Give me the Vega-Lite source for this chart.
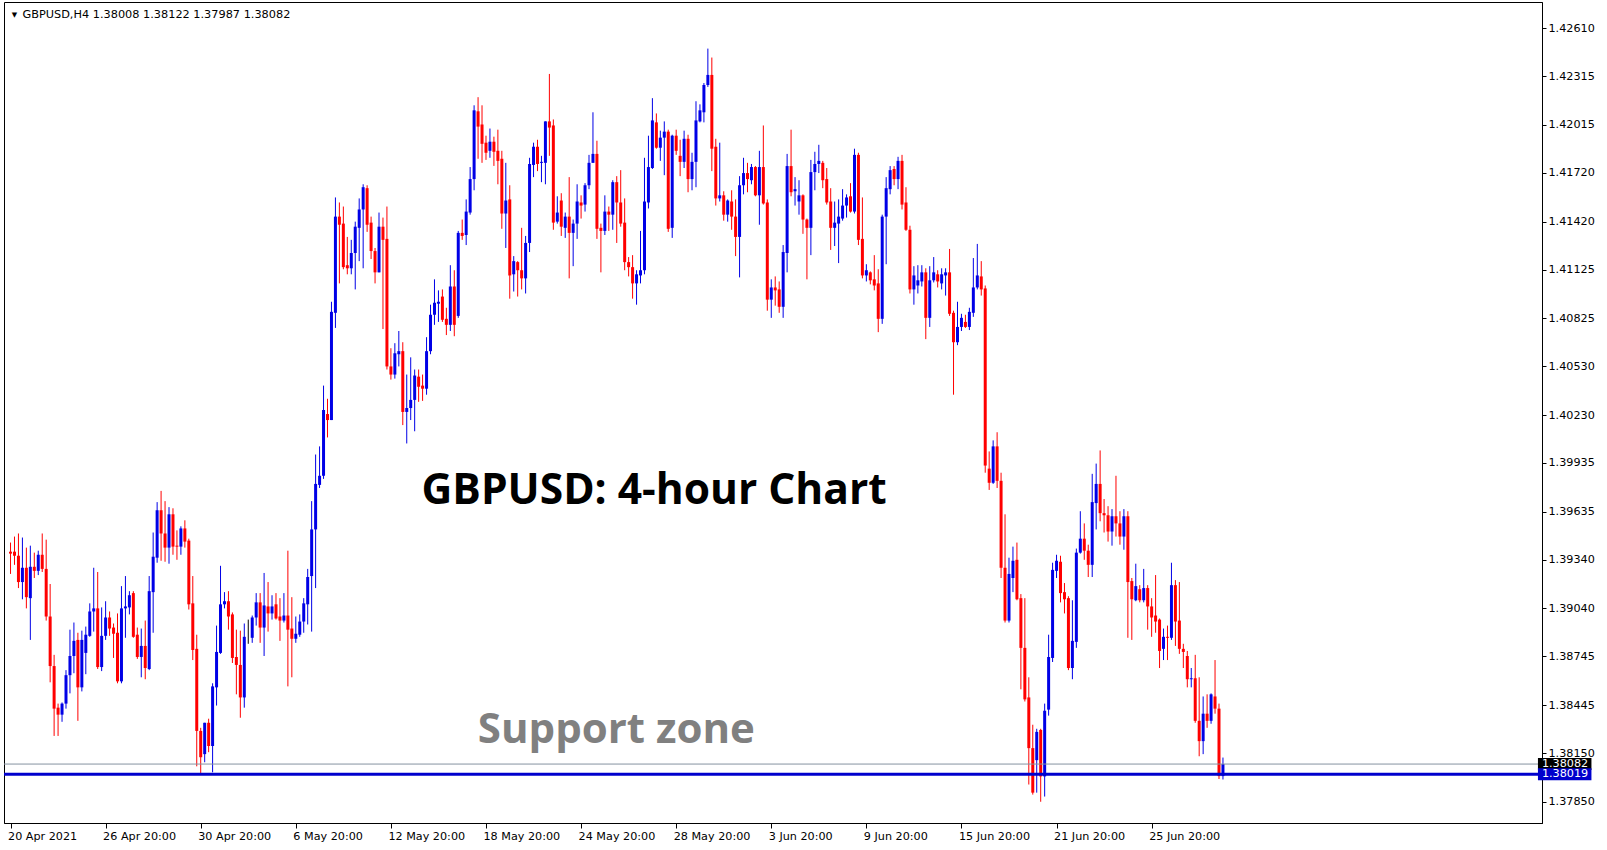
{
"$schema":"https://vega.github.io/schema/vega-lite/v6.json",
"width":1607,"height":850,"autosize":{"type":"fit","contains":"padding"},
"padding":{"left":2,"top":2,"right":12,"bottom":8},
"background":"white",
"config":{"view":{"stroke":"black","strokeWidth":1},"axis":{"labelFont":"DejaVu Sans","labelFontSize":11.2,"labelColor":"black","domainColor":"black","tickColor":"black","grid":false}},
"resolve":{"axis":{"x":"independent","y":"independent"}},
"datasets":{"bars":[
{"i":0,"o":1.39389,"h":1.39445,"l":1.39252,"c":1.39377},
{"i":1,"o":1.39389,"h":1.39482,"l":1.39308,"c":1.39364},
{"i":2,"o":1.39364,"h":1.39501,"l":1.39165,"c":1.39202},
{"i":3,"o":1.39202,"h":1.39476,"l":1.39096,"c":1.39290},
{"i":4,"o":1.39290,"h":1.39414,"l":1.39040,"c":1.39109},
{"i":5,"o":1.39103,"h":1.39426,"l":1.38846,"c":1.39296},
{"i":6,"o":1.39296,"h":1.39383,"l":1.39227,"c":1.39271},
{"i":7,"o":1.39271,"h":1.39395,"l":1.39245,"c":1.39370},
{"i":8,"o":1.39370,"h":1.39501,"l":1.39264,"c":1.39283},
{"i":9,"o":1.39283,"h":1.39463,"l":1.38965,"c":1.38990},
{"i":10,"o":1.38990,"h":1.39190,"l":1.38585,"c":1.38685},
{"i":11,"o":1.38685,"h":1.38754,"l":1.38255,"c":1.38423},
{"i":12,"o":1.38429,"h":1.38454,"l":1.38255,"c":1.38386},
{"i":13,"o":1.38386,"h":1.38461,"l":1.38342,"c":1.38454},
{"i":14,"o":1.38454,"h":1.38660,"l":1.38423,"c":1.38629},
{"i":15,"o":1.38629,"h":1.38909,"l":1.38517,"c":1.38747},
{"i":16,"o":1.38747,"h":1.38953,"l":1.38641,"c":1.38840},
{"i":17,"o":1.38846,"h":1.38890,"l":1.38348,"c":1.38554},
{"i":18,"o":1.38554,"h":1.38903,"l":1.38529,"c":1.38846},
{"i":19,"o":1.38766,"h":1.38928,"l":1.38635,"c":1.38878},
{"i":20,"o":1.38871,"h":1.39071,"l":1.38865,"c":1.39021},
{"i":21,"o":1.39021,"h":1.39290,"l":1.38897,"c":1.39040},
{"i":22,"o":1.39040,"h":1.39264,"l":1.38667,"c":1.38679},
{"i":23,"o":1.38679,"h":1.39046,"l":1.38654,"c":1.38871},
{"i":24,"o":1.38871,"h":1.39084,"l":1.38846,"c":1.38984},
{"i":25,"o":1.38984,"h":1.39021,"l":1.38871,"c":1.38916},
{"i":26,"o":1.38922,"h":1.38947,"l":1.38735,"c":1.38884},
{"i":27,"o":1.38890,"h":1.39009,"l":1.38579,"c":1.38591},
{"i":28,"o":1.38591,"h":1.39177,"l":1.38579,"c":1.39040},
{"i":29,"o":1.39040,"h":1.39239,"l":1.38859,"c":1.39052},
{"i":30,"o":1.39046,"h":1.39146,"l":1.39003,"c":1.39121},
{"i":31,"o":1.39134,"h":1.39146,"l":1.38859,"c":1.38865},
{"i":32,"o":1.38878,"h":1.38922,"l":1.38729,"c":1.38741},
{"i":33,"o":1.38741,"h":1.38916,"l":1.38616,"c":1.38809},
{"i":34,"o":1.38809,"h":1.38965,"l":1.38604,"c":1.38673},
{"i":35,"o":1.38667,"h":1.39239,"l":1.38660,"c":1.39146},
{"i":36,"o":1.39140,"h":1.39507,"l":1.38890,"c":1.39358},
{"i":37,"o":1.39352,"h":1.39694,"l":1.39321,"c":1.39644},
{"i":38,"o":1.39644,"h":1.39763,"l":1.39333,"c":1.39501},
{"i":39,"o":1.39501,"h":1.39700,"l":1.39327,"c":1.39414},
{"i":40,"o":1.39414,"h":1.39663,"l":1.39315,"c":1.39619},
{"i":41,"o":1.39619,"h":1.39656,"l":1.39370,"c":1.39420},
{"i":42,"o":1.39426,"h":1.39520,"l":1.39339,"c":1.39420},
{"i":43,"o":1.39420,"h":1.39545,"l":1.39370,"c":1.39532},
{"i":44,"o":1.39532,"h":1.39582,"l":1.39414,"c":1.39451},
{"i":45,"o":1.39457,"h":1.39469,"l":1.39033,"c":1.39065},
{"i":46,"o":1.39071,"h":1.39239,"l":1.38722,"c":1.38784},
{"i":47,"o":1.38791,"h":1.38878,"l":1.38068,"c":1.38286},
{"i":48,"o":1.38286,"h":1.38305,"l":1.38018,"c":1.38124},
{"i":49,"o":1.38143,"h":1.38336,"l":1.38093,"c":1.38336},
{"i":50,"o":1.38336,"h":1.38361,"l":1.38155,"c":1.38193},
{"i":51,"o":1.38193,"h":1.38579,"l":1.38031,"c":1.38560},
{"i":52,"o":1.38554,"h":1.38934,"l":1.38442,"c":1.38772},
{"i":53,"o":1.38766,"h":1.39302,"l":1.38760,"c":1.39065},
{"i":54,"o":1.39065,"h":1.39140,"l":1.39040,"c":1.39084},
{"i":55,"o":1.39084,"h":1.39146,"l":1.38909,"c":1.38990},
{"i":56,"o":1.39003,"h":1.39015,"l":1.38704,"c":1.38735},
{"i":57,"o":1.38741,"h":1.38909,"l":1.38511,"c":1.38692},
{"i":58,"o":1.38692,"h":1.38903,"l":1.38367,"c":1.38492},
{"i":59,"o":1.38492,"h":1.38947,"l":1.38429,"c":1.38865},
{"i":60,"o":1.38859,"h":1.38971,"l":1.38822,"c":1.38859},
{"i":61,"o":1.38859,"h":1.38996,"l":1.38828,"c":1.38984},
{"i":62,"o":1.38984,"h":1.39134,"l":1.38934,"c":1.39077},
{"i":63,"o":1.39077,"h":1.39134,"l":1.38828,"c":1.38922},
{"i":64,"o":1.38922,"h":1.39258,"l":1.38747,"c":1.39058},
{"i":65,"o":1.39052,"h":1.39202,"l":1.38897,"c":1.39009},
{"i":66,"o":1.39009,"h":1.39121,"l":1.38971,"c":1.39052},
{"i":67,"o":1.39065,"h":1.39134,"l":1.38971,"c":1.38978},
{"i":68,"o":1.38990,"h":1.39103,"l":1.38840,"c":1.38965},
{"i":69,"o":1.38965,"h":1.39134,"l":1.38953,"c":1.38996},
{"i":70,"o":1.38996,"h":1.39395,"l":1.38560,"c":1.38909},
{"i":71,"o":1.38916,"h":1.39109,"l":1.38616,"c":1.38853},
{"i":72,"o":1.38853,"h":1.38990,"l":1.38828,"c":1.38884},
{"i":73,"o":1.38878,"h":1.39003,"l":1.38865,"c":1.38959},
{"i":74,"o":1.38959,"h":1.39103,"l":1.38890,"c":1.39071},
{"i":75,"o":1.39065,"h":1.39283,"l":1.38941,"c":1.39233},
{"i":76,"o":1.39239,"h":1.39700,"l":1.38897,"c":1.39526},
{"i":77,"o":1.39526,"h":1.39987,"l":1.39165,"c":1.39806},
{"i":78,"o":1.39800,"h":1.40037,"l":1.39781,"c":1.39856},
{"i":79,"o":1.39856,"h":1.40411,"l":1.39837,"c":1.40261},
{"i":80,"o":1.40236,"h":1.40330,"l":1.40092,"c":1.40199},
{"i":81,"o":1.40199,"h":1.40927,"l":1.40199,"c":1.40865},
{"i":82,"o":1.40859,"h":1.41569,"l":1.40766,"c":1.41451},
{"i":83,"o":1.41451,"h":1.41538,"l":1.41040,"c":1.41401},
{"i":84,"o":1.41408,"h":1.41513,"l":1.41127,"c":1.41140},
{"i":85,"o":1.41152,"h":1.41326,"l":1.41096,"c":1.41133},
{"i":86,"o":1.41133,"h":1.41308,"l":1.41096,"c":1.41227},
{"i":87,"o":1.41227,"h":1.41420,"l":1.41003,"c":1.41389},
{"i":88,"o":1.41382,"h":1.41563,"l":1.41177,"c":1.41495},
{"i":89,"o":1.41495,"h":1.41650,"l":1.41133,"c":1.41632},
{"i":90,"o":1.41626,"h":1.41644,"l":1.41357,"c":1.41401},
{"i":91,"o":1.41414,"h":1.41451,"l":1.41190,"c":1.41239},
{"i":92,"o":1.41239,"h":1.41258,"l":1.41040,"c":1.41108},
{"i":93,"o":1.41108,"h":1.41476,"l":1.41108,"c":1.41389},
{"i":94,"o":1.41389,"h":1.41445,"l":1.40759,"c":1.41308},
{"i":95,"o":1.41314,"h":1.41513,"l":1.40510,"c":1.40529},
{"i":96,"o":1.40529,"h":1.40641,"l":1.40448,"c":1.40479},
{"i":97,"o":1.40479,"h":1.40672,"l":1.40454,"c":1.40610},
{"i":98,"o":1.40604,"h":1.40747,"l":1.40529,"c":1.40623},
{"i":99,"o":1.40623,"h":1.40678,"l":1.40168,"c":1.40249},
{"i":100,"o":1.40249,"h":1.40479,"l":1.40055,"c":1.40273},
{"i":101,"o":1.40273,"h":1.40585,"l":1.40199,"c":1.40323},
{"i":102,"o":1.40323,"h":1.40510,"l":1.40130,"c":1.40473},
{"i":103,"o":1.40466,"h":1.40510,"l":1.40311,"c":1.40404},
{"i":104,"o":1.40411,"h":1.40479,"l":1.40317,"c":1.40392},
{"i":105,"o":1.40392,"h":1.40709,"l":1.40355,"c":1.40623},
{"i":106,"o":1.40623,"h":1.40909,"l":1.40604,"c":1.40847},
{"i":107,"o":1.40847,"h":1.41065,"l":1.40785,"c":1.40921},
{"i":108,"o":1.40915,"h":1.40997,"l":1.40803,"c":1.40927},
{"i":109,"o":1.40959,"h":1.41003,"l":1.40803,"c":1.40816},
{"i":110,"o":1.40822,"h":1.40890,"l":1.40722,"c":1.40785},
{"i":111,"o":1.40785,"h":1.41152,"l":1.40747,"c":1.41021},
{"i":112,"o":1.41021,"h":1.41121,"l":1.40715,"c":1.40785},
{"i":113,"o":1.40840,"h":1.41363,"l":1.40828,"c":1.41351},
{"i":114,"o":1.41351,"h":1.41433,"l":1.41308,"c":1.41332},
{"i":115,"o":1.41338,"h":1.41557,"l":1.41276,"c":1.41482},
{"i":116,"o":1.41476,"h":1.41756,"l":1.41463,"c":1.41682},
{"i":117,"o":1.41682,"h":1.42136,"l":1.41613,"c":1.42105},
{"i":118,"o":1.42099,"h":1.42186,"l":1.41807,"c":1.42005},
{"i":119,"o":1.42018,"h":1.42136,"l":1.41782,"c":1.41899},
{"i":120,"o":1.41906,"h":1.41949,"l":1.41800,"c":1.41844},
{"i":121,"o":1.41856,"h":1.41993,"l":1.41813,"c":1.41912},
{"i":122,"o":1.41912,"h":1.41943,"l":1.41763,"c":1.41850},
{"i":123,"o":1.41856,"h":1.41986,"l":1.41650,"c":1.41794},
{"i":124,"o":1.41807,"h":1.41856,"l":1.41376,"c":1.41470},
{"i":125,"o":1.41470,"h":1.41782,"l":1.41258,"c":1.41550},
{"i":126,"o":1.41557,"h":1.41644,"l":1.40946,"c":1.41089},
{"i":127,"o":1.41096,"h":1.41208,"l":1.40990,"c":1.41177},
{"i":128,"o":1.41171,"h":1.41177,"l":1.40959,"c":1.41121},
{"i":129,"o":1.41121,"h":1.41382,"l":1.41003,"c":1.41071},
{"i":130,"o":1.41071,"h":1.41332,"l":1.40978,"c":1.41289},
{"i":131,"o":1.41289,"h":1.41813,"l":1.41233,"c":1.41775},
{"i":132,"o":1.41769,"h":1.41906,"l":1.41694,"c":1.41881},
{"i":133,"o":1.41881,"h":1.41924,"l":1.41731,"c":1.41775},
{"i":134,"o":1.41782,"h":1.41825,"l":1.41663,"c":1.41788},
{"i":135,"o":1.41782,"h":1.42037,"l":1.41650,"c":1.42037},
{"i":136,"o":1.42037,"h":1.42329,"l":1.41825,"c":1.41999},
{"i":137,"o":1.42012,"h":1.42049,"l":1.41370,"c":1.41414},
{"i":138,"o":1.41420,"h":1.41576,"l":1.41408,"c":1.41476},
{"i":139,"o":1.41550,"h":1.41595,"l":1.41332,"c":1.41389},
{"i":140,"o":1.41382,"h":1.41476,"l":1.41320,"c":1.41451},
{"i":141,"o":1.41451,"h":1.41694,"l":1.41071,"c":1.41351},
{"i":142,"o":1.41351,"h":1.41433,"l":1.41146,"c":1.41408},
{"i":143,"o":1.41408,"h":1.41650,"l":1.41314,"c":1.41544},
{"i":144,"o":1.41538,"h":1.41582,"l":1.41439,"c":1.41519},
{"i":145,"o":1.41525,"h":1.41657,"l":1.41482,"c":1.41644},
{"i":146,"o":1.41644,"h":1.41831,"l":1.41620,"c":1.41782},
{"i":147,"o":1.41782,"h":1.42093,"l":1.41782,"c":1.41837},
{"i":148,"o":1.41837,"h":1.41918,"l":1.41314,"c":1.41376},
{"i":149,"o":1.41382,"h":1.41408,"l":1.41108,"c":1.41363},
{"i":150,"o":1.41363,"h":1.41582,"l":1.41338,"c":1.41482},
{"i":151,"o":1.41482,"h":1.41513,"l":1.41363,"c":1.41463},
{"i":152,"o":1.41463,"h":1.41675,"l":1.41370,"c":1.41663},
{"i":153,"o":1.41663,"h":1.41700,"l":1.41289,"c":1.41538},
{"i":154,"o":1.41538,"h":1.41737,"l":1.41389,"c":1.41408},
{"i":155,"o":1.41414,"h":1.41563,"l":1.41121,"c":1.41171},
{"i":156,"o":1.41171,"h":1.41202,"l":1.41083,"c":1.41140},
{"i":157,"o":1.41140,"h":1.41214,"l":1.40946,"c":1.41040},
{"i":158,"o":1.41040,"h":1.41121,"l":1.40909,"c":1.41096},
{"i":159,"o":1.41089,"h":1.41363,"l":1.41040,"c":1.41121},
{"i":160,"o":1.41121,"h":1.41813,"l":1.41096,"c":1.41544},
{"i":161,"o":1.41538,"h":1.41949,"l":1.41501,"c":1.41756},
{"i":162,"o":1.41750,"h":1.42180,"l":1.41744,"c":1.42043},
{"i":163,"o":1.42031,"h":1.42086,"l":1.41869,"c":1.41875},
{"i":164,"o":1.41875,"h":1.41980,"l":1.41794,"c":1.41937},
{"i":165,"o":1.41937,"h":1.42037,"l":1.41706,"c":1.41974},
{"i":166,"o":1.41974,"h":1.41986,"l":1.41357,"c":1.41376},
{"i":167,"o":1.41382,"h":1.41955,"l":1.41320,"c":1.41949},
{"i":168,"o":1.41949,"h":1.41986,"l":1.41831,"c":1.41856},
{"i":169,"o":1.41825,"h":1.41924,"l":1.41700,"c":1.41788},
{"i":170,"o":1.41788,"h":1.41980,"l":1.41750,"c":1.41930},
{"i":171,"o":1.41930,"h":1.41955,"l":1.41601,"c":1.41682},
{"i":172,"o":1.41682,"h":1.41844,"l":1.41613,"c":1.41788},
{"i":173,"o":1.41788,"h":1.42161,"l":1.41632,"c":1.42043},
{"i":174,"o":1.42037,"h":1.42142,"l":1.42031,"c":1.42105},
{"i":175,"o":1.42093,"h":1.42273,"l":1.42031,"c":1.42261},
{"i":176,"o":1.42261,"h":1.42485,"l":1.42249,"c":1.42323},
{"i":177,"o":1.42323,"h":1.42430,"l":1.41731,"c":1.41869},
{"i":178,"o":1.41881,"h":1.41930,"l":1.41519,"c":1.41563},
{"i":179,"o":1.41563,"h":1.41906,"l":1.41544,"c":1.41582},
{"i":180,"o":1.41582,"h":1.41607,"l":1.41426,"c":1.41463},
{"i":181,"o":1.41463,"h":1.41557,"l":1.41420,"c":1.41550},
{"i":182,"o":1.41544,"h":1.41613,"l":1.41370,"c":1.41451},
{"i":183,"o":1.41451,"h":1.41557,"l":1.41208,"c":1.41326},
{"i":184,"o":1.41326,"h":1.41700,"l":1.41077,"c":1.41644},
{"i":185,"o":1.41644,"h":1.41813,"l":1.41588,"c":1.41719},
{"i":186,"o":1.41719,"h":1.41782,"l":1.41601,"c":1.41682},
{"i":187,"o":1.41675,"h":1.41775,"l":1.41650,"c":1.41756},
{"i":188,"o":1.41756,"h":1.41762,"l":1.41576,"c":1.41582},
{"i":189,"o":1.41582,"h":1.41856,"l":1.41401,"c":1.41756},
{"i":190,"o":1.41756,"h":1.42012,"l":1.41525,"c":1.41532},
{"i":191,"o":1.41538,"h":1.41557,"l":1.40872,"c":1.40940},
{"i":192,"o":1.40940,"h":1.41065,"l":1.40828,"c":1.41015},
{"i":193,"o":1.41015,"h":1.41083,"l":1.40903,"c":1.40997},
{"i":194,"o":1.41003,"h":1.41052,"l":1.40859,"c":1.40896},
{"i":195,"o":1.40896,"h":1.41276,"l":1.40828,"c":1.41233},
{"i":196,"o":1.41227,"h":1.41837,"l":1.41108,"c":1.41762},
{"i":197,"o":1.41762,"h":1.41986,"l":1.41576,"c":1.41601},
{"i":198,"o":1.41607,"h":1.41694,"l":1.41519,"c":1.41620},
{"i":199,"o":1.41544,"h":1.41675,"l":1.41463,"c":1.41582},
{"i":200,"o":1.41582,"h":1.41588,"l":1.41345,"c":1.41433},
{"i":201,"o":1.41433,"h":1.41439,"l":1.41065,"c":1.41382},
{"i":202,"o":1.41382,"h":1.41800,"l":1.41214,"c":1.41725},
{"i":203,"o":1.41725,"h":1.41850,"l":1.41613,"c":1.41775},
{"i":204,"o":1.41775,"h":1.41893,"l":1.41719,"c":1.41794},
{"i":205,"o":1.41782,"h":1.41794,"l":1.41626,"c":1.41675},
{"i":206,"o":1.41682,"h":1.41750,"l":1.41525,"c":1.41538},
{"i":207,"o":1.41544,"h":1.41626,"l":1.41246,"c":1.41382},
{"i":208,"o":1.41382,"h":1.41544,"l":1.41270,"c":1.41414},
{"i":209,"o":1.41408,"h":1.41557,"l":1.41165,"c":1.41451},
{"i":210,"o":1.41439,"h":1.41620,"l":1.41426,"c":1.41519},
{"i":211,"o":1.41519,"h":1.41588,"l":1.41445,"c":1.41569},
{"i":212,"o":1.41576,"h":1.41657,"l":1.41476,"c":1.41482},
{"i":213,"o":1.41482,"h":1.41869,"l":1.41470,"c":1.41831},
{"i":214,"o":1.41831,"h":1.41844,"l":1.41276,"c":1.41308},
{"i":215,"o":1.41314,"h":1.41569,"l":1.41071,"c":1.41089},
{"i":216,"o":1.41089,"h":1.41158,"l":1.41052,"c":1.41121},
{"i":217,"o":1.41108,"h":1.41114,"l":1.41034,"c":1.41059},
{"i":218,"o":1.41065,"h":1.41214,"l":1.40997,"c":1.41027},
{"i":219,"o":1.41040,"h":1.41127,"l":1.40740,"c":1.40822},
{"i":220,"o":1.40822,"h":1.41463,"l":1.40791,"c":1.41451},
{"i":221,"o":1.41451,"h":1.41694,"l":1.41158,"c":1.41626},
{"i":222,"o":1.41620,"h":1.41762,"l":1.41588,"c":1.41737},
{"i":223,"o":1.41744,"h":1.41762,"l":1.41644,"c":1.41682},
{"i":224,"o":1.41682,"h":1.41819,"l":1.41620,"c":1.41794},
{"i":225,"o":1.41794,"h":1.41831,"l":1.41495,"c":1.41525},
{"i":226,"o":1.41538,"h":1.41632,"l":1.41363,"c":1.41370},
{"i":227,"o":1.41370,"h":1.41395,"l":1.40978,"c":1.41003},
{"i":228,"o":1.41003,"h":1.41146,"l":1.40909,"c":1.41089},
{"i":229,"o":1.41027,"h":1.41152,"l":1.40978,"c":1.41059},
{"i":230,"o":1.41052,"h":1.41152,"l":1.41021,"c":1.41108},
{"i":231,"o":1.41108,"h":1.41133,"l":1.40697,"c":1.40828},
{"i":232,"o":1.40828,"h":1.41146,"l":1.40772,"c":1.41059},
{"i":233,"o":1.41059,"h":1.41202,"l":1.41046,"c":1.41108},
{"i":234,"o":1.41096,"h":1.41121,"l":1.41015,"c":1.41052},
{"i":235,"o":1.41040,"h":1.41133,"l":1.41003,"c":1.41096},
{"i":236,"o":1.41089,"h":1.41133,"l":1.40965,"c":1.41108},
{"i":237,"o":1.41108,"h":1.41252,"l":1.40840,"c":1.40853},
{"i":238,"o":1.40859,"h":1.40872,"l":1.40355,"c":1.40678},
{"i":239,"o":1.40678,"h":1.40927,"l":1.40660,"c":1.40772},
{"i":240,"o":1.40772,"h":1.40853,"l":1.40747,"c":1.40828},
{"i":241,"o":1.40803,"h":1.40847,"l":1.40766,"c":1.40772},
{"i":242,"o":1.40772,"h":1.40890,"l":1.40753,"c":1.40865},
{"i":243,"o":1.40859,"h":1.41196,"l":1.40834,"c":1.41015},
{"i":244,"o":1.41015,"h":1.41283,"l":1.41003,"c":1.41089},
{"i":245,"o":1.41083,"h":1.41177,"l":1.40965,"c":1.41003},
{"i":246,"o":1.41009,"h":1.41027,"l":1.39875,"c":1.39919},
{"i":247,"o":1.39900,"h":1.40006,"l":1.39769,"c":1.39813},
{"i":248,"o":1.39813,"h":1.40074,"l":1.39806,"c":1.40037},
{"i":249,"o":1.40037,"h":1.40124,"l":1.39781,"c":1.39825},
{"i":250,"o":1.39825,"h":1.39875,"l":1.39227,"c":1.39290},
{"i":251,"o":1.39290,"h":1.39619,"l":1.38953,"c":1.38965},
{"i":252,"o":1.38965,"h":1.39352,"l":1.38953,"c":1.39252},
{"i":253,"o":1.39227,"h":1.39420,"l":1.39140,"c":1.39333},
{"i":254,"o":1.39339,"h":1.39445,"l":1.39090,"c":1.39096},
{"i":255,"o":1.39103,"h":1.39128,"l":1.38542,"c":1.38797},
{"i":256,"o":1.38797,"h":1.39103,"l":1.38467,"c":1.38480},
{"i":257,"o":1.38492,"h":1.38616,"l":1.37956,"c":1.38180},
{"i":258,"o":1.38180,"h":1.38324,"l":1.37894,"c":1.37906},
{"i":259,"o":1.38106,"h":1.38299,"l":1.37906,"c":1.38280},
{"i":260,"o":1.38292,"h":1.38299,"l":1.37850,"c":1.38006},
{"i":261,"o":1.38006,"h":1.38454,"l":1.37882,"c":1.38410},
{"i":262,"o":1.38417,"h":1.38878,"l":1.38380,"c":1.38741},
{"i":263,"o":1.38735,"h":1.39321,"l":1.38710,"c":1.39277},
{"i":264,"o":1.39271,"h":1.39370,"l":1.39227,"c":1.39333},
{"i":265,"o":1.39327,"h":1.39364,"l":1.39077,"c":1.39134},
{"i":266,"o":1.39140,"h":1.39196,"l":1.39009,"c":1.39096},
{"i":267,"o":1.39103,"h":1.39115,"l":1.38660,"c":1.38673},
{"i":268,"o":1.38673,"h":1.39090,"l":1.38604,"c":1.38840},
{"i":269,"o":1.38834,"h":1.39408,"l":1.38797,"c":1.39383},
{"i":270,"o":1.39383,"h":1.39638,"l":1.39377,"c":1.39469},
{"i":271,"o":1.39469,"h":1.39563,"l":1.39339,"c":1.39395},
{"i":272,"o":1.39395,"h":1.39432,"l":1.39233,"c":1.39308},
{"i":273,"o":1.39308,"h":1.39868,"l":1.39233,"c":1.39694},
{"i":274,"o":1.39688,"h":1.39931,"l":1.39526,"c":1.39806},
{"i":275,"o":1.39806,"h":1.40012,"l":1.39576,"c":1.39626},
{"i":276,"o":1.39626,"h":1.39713,"l":1.39507,"c":1.39613},
{"i":277,"o":1.39613,"h":1.39669,"l":1.39451,"c":1.39513},
{"i":278,"o":1.39513,"h":1.39651,"l":1.39426,"c":1.39607},
{"i":279,"o":1.39607,"h":1.39856,"l":1.39482,"c":1.39563},
{"i":280,"o":1.39563,"h":1.39638,"l":1.39432,"c":1.39482},
{"i":281,"o":1.39482,"h":1.39651,"l":1.39401,"c":1.39607},
{"i":282,"o":1.39607,"h":1.39638,"l":1.38859,"c":1.39202},
{"i":283,"o":1.39208,"h":1.39227,"l":1.38846,"c":1.39096},
{"i":284,"o":1.39090,"h":1.39315,"l":1.39084,"c":1.39177},
{"i":285,"o":1.39158,"h":1.39183,"l":1.39077,"c":1.39090},
{"i":286,"o":1.39090,"h":1.39283,"l":1.39077,"c":1.39165},
{"i":287,"o":1.39165,"h":1.39183,"l":1.38909,"c":1.39052},
{"i":288,"o":1.39052,"h":1.39103,"l":1.38865,"c":1.38984},
{"i":289,"o":1.38996,"h":1.39245,"l":1.38890,"c":1.38959},
{"i":290,"o":1.38971,"h":1.38978,"l":1.38673,"c":1.38778},
{"i":291,"o":1.38791,"h":1.38916,"l":1.38722,"c":1.38865},
{"i":292,"o":1.38865,"h":1.38934,"l":1.38722,"c":1.38859},
{"i":293,"o":1.38859,"h":1.39321,"l":1.38846,"c":1.39183},
{"i":294,"o":1.39183,"h":1.39214,"l":1.38809,"c":1.38959},
{"i":295,"o":1.38965,"h":1.39202,"l":1.38760,"c":1.38791},
{"i":296,"o":1.38791,"h":1.38822,"l":1.38673,"c":1.38772},
{"i":297,"o":1.38747,"h":1.38778,"l":1.38554,"c":1.38604},
{"i":298,"o":1.38604,"h":1.38673,"l":1.38554,"c":1.38610},
{"i":299,"o":1.38610,"h":1.38754,"l":1.38336,"c":1.38348},
{"i":300,"o":1.38348,"h":1.38616,"l":1.38130,"c":1.38223},
{"i":301,"o":1.38223,"h":1.38498,"l":1.38143,"c":1.38392},
{"i":302,"o":1.38392,"h":1.38511,"l":1.38305,"c":1.38348},
{"i":303,"o":1.38348,"h":1.38517,"l":1.38330,"c":1.38511},
{"i":304,"o":1.38498,"h":1.38722,"l":1.38392,"c":1.38423},
{"i":305,"o":1.38423,"h":1.38454,"l":1.37990,"c":1.38008},
{"i":306,"o":1.38008,"h":1.38122,"l":1.37987,"c":1.38082}
]},
"layer":[
{"data":{"name":"bars"},"mark":{"type":"rule","strokeWidth":1},
 "encoding":{
  "x":{"field":"i","type":"quantitative","title":null,"scale":{"domain":[-0.385,385.26],"nice":false,"zero":false},
   "axis":{"orient":"bottom","title":null,"values":[0,24,48,72,96,120,144,168,192,216,240,264,288],
    "labelExpr":"['20 Apr 2021','26 Apr 20:00','30 Apr 20:00','6 May 20:00','12 May 20:00','18 May 20:00','24 May 20:00','28 May 20:00','3 Jun 20:00','9 Jun 20:00','15 Jun 20:00','21 Jun 20:00','25 Jun 20:00'][round(datum.value/24)]",
    "labelAlign":"left","labelFlush":false,"labelOverlap":false,"labelBound":false,"tickSize":5,"labelPadding":2,"labelOffset":-3}},
  "y":{"field":"l","type":"quantitative","title":null,"scale":{"domain":[1.3775,1.42741],"nice":false,"zero":false},
   "axis":{"orient":"right","title":null,"values":[1.4261,1.42315,1.42015,1.4172,1.4142,1.41125,1.40825,1.4053,1.4023,1.39935,1.39635,1.3934,1.3904,1.38745,1.38445,1.3815,1.3785],
    "format":".5f","tickSize":4,"labelPadding":2,"labelOverlap":false,"labelBound":false,"labelFlush":false}},
  "y2":{"field":"h"},
  "color":{"condition":[{"test":"datum.c > datum.o","value":"#0000E6"},{"test":"datum.c < datum.o","value":"#FF0000"}],"value":"#000000"}
 }},
{"data":{"name":"bars"},"mark":{"type":"bar","size":3},
 "encoding":{
  "x":{"field":"i","type":"quantitative","axis":null},
  "y":{"field":"o","type":"quantitative","axis":null},
  "y2":{"field":"c"},
  "color":{"condition":[{"test":"datum.c > datum.o","value":"#0000E6"},{"test":"datum.c < datum.o","value":"#FF0000"}],"value":"#000000"}
 }},
{"data":{"values":[{"p":1.38082}]},"mark":{"type":"rule","color":"#8592A0","strokeWidth":1},
 "encoding":{"y":{"field":"p","type":"quantitative","axis":null}}},
{"data":{"values":[{"p":1.38019}]},"mark":{"type":"rule","color":"#0000CD","strokeWidth":3},
 "encoding":{"y":{"field":"p","type":"quantitative","axis":null}}},
{"data":{"values":[{"p":1.38082,"t":"1.38082","k":"bid"},{"p":1.38019,"t":"1.38019","k":"support"}]},
 "mark":{"type":"bar","size":12},
 "encoding":{"x":{"datum":385.5,"axis":null},"x2":{"datum":399.0},"y":{"field":"p","type":"quantitative","axis":null},
  "color":{"field":"k","type":"nominal","scale":{"domain":["bid","support"],"range":["#000000","#0000CD"]},"legend":null}}},
{"data":{"values":[{"p":1.38082,"t":"1.38082"},{"p":1.38019,"t":"1.38019"}]},
 "mark":{"type":"text","align":"left","baseline":"middle","color":"white","font":"DejaVu Sans","fontSize":11.2,"dx":4},
 "encoding":{"x":{"datum":385.5,"axis":null},"y":{"field":"p","type":"quantitative","axis":null},"text":{"field":"t"}}},
{"data":{"values":[{"i":162.44,"p":1.39681,"t":"GBPUSD: 4-hour Chart"}]},
 "mark":{"type":"text","font":"Open Sans","fontWeight":"bold","fontSize":42.5,"color":"black","align":"center","baseline":"alphabetic"},
 "encoding":{"x":{"field":"i","type":"quantitative","axis":null},"y":{"field":"p","type":"quantitative","axis":null},"text":{"field":"t"}}},
{"data":{"values":[{"i":152.9,"p":1.38211,"t":"Support zone"}]},
 "mark":{"type":"text","font":"Open Sans","fontWeight":"bold","fontSize":42,"color":"#808080","align":"center","baseline":"alphabetic"},
 "encoding":{"x":{"field":"i","type":"quantitative","axis":null},"y":{"field":"p","type":"quantitative","axis":null},"text":{"field":"t"}}},
{"data":{"values":[{"i":3.0,"p":1.42675,"t":"GBPUSD,H4  1.38008 1.38122 1.37987 1.38082"}]},
 "mark":{"type":"text","font":"DejaVu Sans","fontSize":11.3,"color":"black","align":"left","baseline":"alphabetic"},
 "encoding":{"x":{"field":"i","type":"quantitative","axis":null},"y":{"field":"p","type":"quantitative","axis":null},"text":{"field":"t"}}},
{"data":{"values":[{"i":0.3,"p":1.42678,"t":"▼"}]},
 "mark":{"type":"text","font":"DejaVu Sans","fontSize":7,"color":"black","align":"left","baseline":"alphabetic"},
 "encoding":{"x":{"field":"i","type":"quantitative","axis":null},"y":{"field":"p","type":"quantitative","axis":null},"text":{"field":"t"}}}
]
}
